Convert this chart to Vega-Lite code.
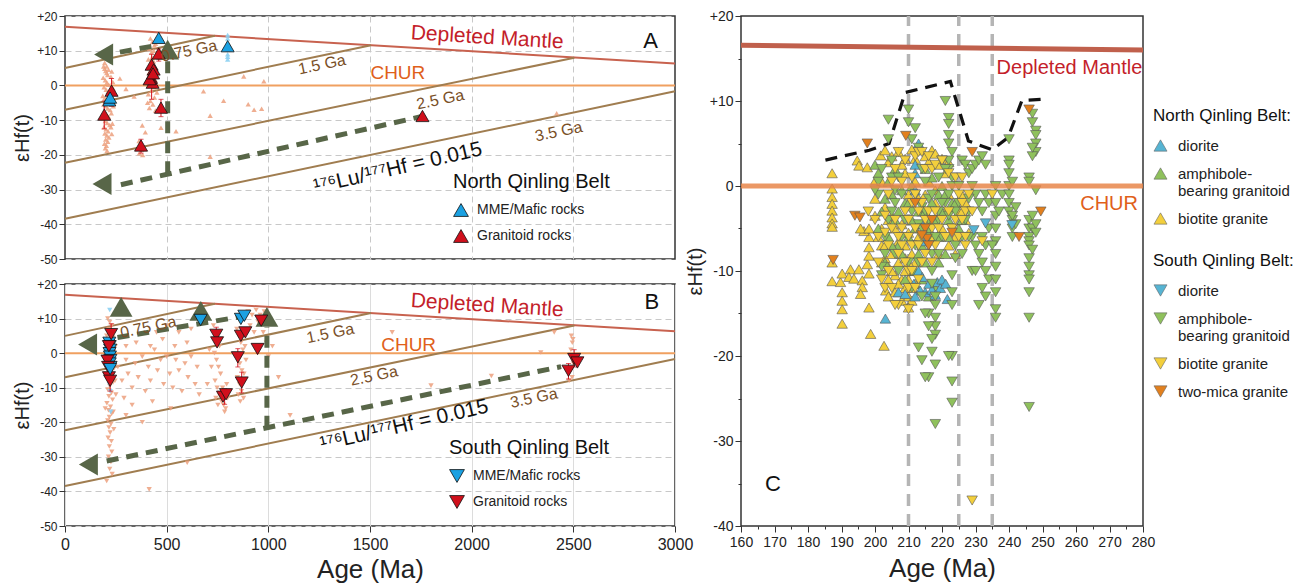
{
"$schema":"https://vega.github.io/schema/vega-lite/v6.json",
"padding":{"left":11,"top":8,"right":0,"bottom":0},
"background":"white",
"config":{"font":"Liberation Sans","view":{"stroke":"#333","strokeWidth":1.5},
"axis":{"labelFont":"Liberation Sans","titleFont":"Liberation Sans","labelColor":"#222","titleColor":"#222","titleFontWeight":"normal","domain":false,"tickColor":"#333"},
"legend":{"labelFont":"Liberation Sans","titleFont":"Liberation Sans","titleFontWeight":"normal","titleColor":"#111","labelColor":"#222"}},
"datasets":{
"tA":[{"t":"Depleted Mantle","age":2076,"eHf":13.7,"k":"dm"},{"t":"CHUR","age":1637,"eHf":3.6,"k":"chur"},{"t":"A","age":2880,"eHf":12.8,"k":"panel"},{"t":"0.75 Ga","age":610,"eHf":9.9,"k":"ga"},{"t":"1.5 Ga","age":1264,"eHf":6.0,"k":"ga"},{"t":"2.5 Ga","age":1846,"eHf":-4.1,"k":"ga"},{"t":"3.5 Ga","age":2428,"eHf":-13.3,"k":"ga"},{"t":"¹⁷⁶Lu/¹⁷⁷Hf = 0.015","age":1637,"eHf":-23.9,"k":"lu"}],
"tB":[{"t":"Depleted Mantle","age":2076,"eHf":13.7,"k":"dm"},{"t":"CHUR","age":1690,"eHf":2.3,"k":"chur"},{"t":"B","age":2886,"eHf":14.9,"k":"panel"},{"t":"0.75 Ga","age":410,"eHf":7.5,"k":"ga"},{"t":"1.5 Ga","age":1305,"eHf":5.7,"k":"ga"},{"t":"2.5 Ga","age":1520,"eHf":-6.6,"k":"ga"},{"t":"3.5 Ga","age":2306,"eHf":-13,"k":"ga"},{"t":"¹⁷⁶Lu/¹⁷⁷Hf = 0.015","age":1668,"eHf":-21,"k":"lu"}],
"tC":[{"t":"Depleted Mantle","age":236.3,"eHf":13.9,"k":"dm"},{"t":"CHUR","age":278.5,"eHf":-2.1,"k":"chur"},{"t":"C","age":169.5,"eHf":-35,"k":"panel"}],
"evo":[{"line":"DM","age":0,"eHf":16.9},{"line":"DM","age":3000,"eHf":6.3},{"line":"CHUR","age":0,"eHf":0},{"line":"CHUR","age":3000,"eHf":0},{"line":"0.75 Ga","age":0,"eHf":5.0},{"line":"0.75 Ga","age":737,"eHf":14.3},{"line":"1.5 Ga","age":0,"eHf":-7.0},{"line":"1.5 Ga","age":1505,"eHf":11.6},{"line":"2.5 Ga","age":0,"eHf":-22.3},{"line":"2.5 Ga","age":2505,"eHf":8.0},{"line":"3.5 Ga","age":0,"eHf":-38.4},{"line":"3.5 Ga","age":3000,"eHf":-1.7}],
"arrA":[{"seg":"a","age":270,"eHf":9.6},{"seg":"a","age":430,"eHf":11.3},{"seg":"b","age":505,"eHf":-25.3},{"seg":"b","age":505,"eHf":7.5},{"seg":"c","age":1750,"eHf":-9},{"seg":"c","age":275,"eHf":-28.6}],
"headA":[{"dir":"left","age":190,"eHf":8.9},{"dir":"up","age":505,"eHf":10.3},{"dir":"left","age":182,"eHf":-28.4}],
"arrB":[{"seg":"a","age":258,"eHf":4.5},{"seg":"a","age":860,"eHf":10.5},{"seg":"b","age":993,"eHf":-21.6},{"seg":"b","age":993,"eHf":7.5},{"seg":"c","age":2440,"eHf":-3.9},{"seg":"c","age":205,"eHf":-31.2}],
"headB":[{"dir":"up","age":276,"eHf":13.4},{"dir":"up","age":668,"eHf":12.2},{"dir":"up","age":993,"eHf":10.5},{"dir":"left","age":111,"eHf":2.5},{"dir":"left","age":115,"eHf":-32.2}],
"fA":[{"age":190,"eHf":5.5},{"age":195,"eHf":4.8},{"age":200,"eHf":4.2},{"age":205,"eHf":3.6},{"age":210,"eHf":3},{"age":188,"eHf":2.2},{"age":198,"eHf":1.5},{"age":206,"eHf":0.8},{"age":215,"eHf":0.2},{"age":192,"eHf":-0.5},{"age":202,"eHf":-1.2},{"age":212,"eHf":-1.8},{"age":220,"eHf":-2.5},{"age":186,"eHf":-3},{"age":196,"eHf":-3.6},{"age":208,"eHf":-4.2},{"age":218,"eHf":-4.8},{"age":190,"eHf":-5.5},{"age":200,"eHf":-6},{"age":210,"eHf":-6.6},{"age":222,"eHf":-7.1},{"age":194,"eHf":-7.8},{"age":204,"eHf":-8.4},{"age":214,"eHf":-9},{"age":188,"eHf":-9.6},{"age":198,"eHf":-10.2},{"age":208,"eHf":-10.8},{"age":220,"eHf":-11.4},{"age":192,"eHf":-12},{"age":202,"eHf":-12.6},{"age":212,"eHf":-13.2},{"age":196,"eHf":-13.8},{"age":206,"eHf":-14.4},{"age":216,"eHf":-15},{"age":200,"eHf":-15.6},{"age":210,"eHf":-16.2},{"age":194,"eHf":-16.8},{"age":204,"eHf":-17.4},{"age":198,"eHf":-18.1},{"age":207,"eHf":-18.8},{"age":230,"eHf":4},{"age":235,"eHf":1},{"age":232,"eHf":-2},{"age":236,"eHf":-5},{"age":228,"eHf":-8},{"age":233,"eHf":-11},{"age":226,"eHf":2.5},{"age":238,"eHf":-1},{"age":195,"eHf":6.5},{"age":205,"eHf":5.5},{"age":214,"eHf":4.5},{"age":224,"eHf":-3.5},{"age":226,"eHf":-12},{"age":230,"eHf":-14},{"age":238,"eHf":-6},{"age":420,"eHf":13.5},{"age":430,"eHf":12.5},{"age":440,"eHf":11.5},{"age":415,"eHf":10.5},{"age":425,"eHf":9.5},{"age":445,"eHf":8.5},{"age":410,"eHf":7.5},{"age":435,"eHf":7},{"age":420,"eHf":5.5},{"age":440,"eHf":4.5},{"age":412,"eHf":3.5},{"age":430,"eHf":2.5},{"age":445,"eHf":1.5},{"age":418,"eHf":0.5},{"age":438,"eHf":-0.5},{"age":425,"eHf":-1.5},{"age":410,"eHf":-2.5},{"age":440,"eHf":-3.5},{"age":420,"eHf":-4.5},{"age":432,"eHf":-5.5},{"age":415,"eHf":-6.5},{"age":445,"eHf":-7.2},{"age":428,"eHf":8},{"age":436,"eHf":10},{"age":446,"eHf":12},{"age":414,"eHf":5},{"age":450,"eHf":3},{"age":404,"eHf":1},{"age":452,"eHf":-2},{"age":406,"eHf":-5},{"age":364,"eHf":-16},{"age":370,"eHf":-17.5},{"age":378,"eHf":-18.5},{"age":366,"eHf":-19.5},{"age":382,"eHf":-20},{"age":372,"eHf":-16.5},{"age":340,"eHf":-3.2},{"age":380,"eHf":-11.5},{"age":395,"eHf":-13.5},{"age":472,"eHf":-12.2},{"age":546,"eHf":-13.2},{"age":681,"eHf":-1.7},{"age":714,"eHf":-8.7},{"age":780,"eHf":-4.4},{"age":714,"eHf":-20.5},{"age":879,"eHf":2.6},{"age":901,"eHf":-5.4},{"age":930,"eHf":-7},{"age":967,"eHf":-6.7},{"age":978,"eHf":1.2},{"age":2418,"eHf":-8},{"age":300,"eHf":-1},{"age":270,"eHf":2}],
"fAb":[{"age":800,"eHf":9},{"age":800,"eHf":7.5},{"age":800,"eHf":8.3},{"age":800,"eHf":14.5},{"age":800,"eHf":13.5}],
"mA":[{"age":193,"eHf":-8.4,"type":"Granitoid rocks"},{"age":229,"eHf":-1.5,"type":"Granitoid rocks"},{"age":374,"eHf":-17.3,"type":"Granitoid rocks"},{"age":461,"eHf":9.2,"type":"Granitoid rocks"},{"age":426,"eHf":6.0,"type":"Granitoid rocks"},{"age":436,"eHf":4.6,"type":"Granitoid rocks"},{"age":423,"eHf":2.2,"type":"Granitoid rocks"},{"age":431,"eHf":0.8,"type":"Granitoid rocks"},{"age":416,"eHf":1.8,"type":"Granitoid rocks"},{"age":433,"eHf":3.5,"type":"Granitoid rocks"},{"age":472,"eHf":-6.4,"type":"Granitoid rocks"},{"age":1758,"eHf":-8.8,"type":"Granitoid rocks"},{"age":461,"eHf":13.7,"type":"MME/Mafic rocks"},{"age":800,"eHf":11.3,"type":"MME/Mafic rocks"},{"age":218,"eHf":-4.3,"type":"MME/Mafic rocks"},{"age":222,"eHf":-3.5,"type":"MME/Mafic rocks"}],
"eA":[{"age":193,"lo":-12.5,"hi":-4.5},{"age":229,"lo":-6,"hi":2},{"age":374,"lo":-19.5,"hi":-15.5},{"age":472,"lo":-9,"hi":-4},{"age":461,"lo":7,"hi":10.5},{"age":426,"lo":-4,"hi":9}],
"fB":[{"age":210,"eHf":10},{"age":220,"eHf":9},{"age":230,"eHf":8},{"age":215,"eHf":7},{"age":225,"eHf":6},{"age":205,"eHf":5},{"age":235,"eHf":4.5},{"age":212,"eHf":3.5},{"age":228,"eHf":2.5},{"age":208,"eHf":1.5},{"age":238,"eHf":0.5},{"age":218,"eHf":-0.5},{"age":232,"eHf":-1.5},{"age":205,"eHf":-2.5},{"age":226,"eHf":-3.5},{"age":240,"eHf":-4.5},{"age":214,"eHf":-5.5},{"age":230,"eHf":-6.5},{"age":208,"eHf":-7.5},{"age":236,"eHf":-8.5},{"age":220,"eHf":-9.5},{"age":210,"eHf":-10.5},{"age":228,"eHf":-11.5},{"age":216,"eHf":-12.5},{"age":234,"eHf":-13.5},{"age":206,"eHf":-14.5},{"age":224,"eHf":-15.5},{"age":214,"eHf":-16.5},{"age":230,"eHf":-17.5},{"age":218,"eHf":-18.5},{"age":210,"eHf":-19.5},{"age":226,"eHf":-20.5},{"age":216,"eHf":-21.5},{"age":222,"eHf":-23},{"age":212,"eHf":-24.5},{"age":228,"eHf":-25.5},{"age":218,"eHf":-27},{"age":230,"eHf":-28.5},{"age":214,"eHf":-30},{"age":226,"eHf":-31.5},{"age":220,"eHf":-33.5},{"age":205,"eHf":-37},{"age":232,"eHf":-35},{"age":245,"eHf":-3},{"age":246,"eHf":-8},{"age":250,"eHf":-12},{"age":248,"eHf":2},{"age":200,"eHf":-6},{"age":198,"eHf":-16},{"age":240,"eHf":-22},{"age":237,"eHf":-17},{"age":260,"eHf":-4},{"age":280,"eHf":-8},{"age":300,"eHf":-2},{"age":310,"eHf":-6},{"age":330,"eHf":-10},{"age":345,"eHf":-3},{"age":360,"eHf":-7},{"age":380,"eHf":-1},{"age":395,"eHf":-11},{"age":410,"eHf":-4},{"age":420,"eHf":-8},{"age":440,"eHf":1},{"age":455,"eHf":-5},{"age":470,"eHf":-2},{"age":485,"eHf":-9},{"age":500,"eHf":-1},{"age":515,"eHf":-6},{"age":530,"eHf":-10},{"age":545,"eHf":-2},{"age":560,"eHf":-5},{"age":575,"eHf":-11},{"age":590,"eHf":-3},{"age":605,"eHf":-7},{"age":620,"eHf":-1},{"age":640,"eHf":-9},{"age":300,"eHf":2},{"age":350,"eHf":3},{"age":420,"eHf":2},{"age":480,"eHf":4},{"age":540,"eHf":2},{"age":600,"eHf":3},{"age":560,"eHf":6},{"age":620,"eHf":7},{"age":500,"eHf":8},{"age":450,"eHf":6},{"age":650,"eHf":-4},{"age":660,"eHf":-12},{"age":330,"eHf":-15},{"age":290,"eHf":-13},{"age":430,"eHf":-14},{"age":520,"eHf":-16},{"age":601,"eHf":-31.7},{"age":414,"eHf":-39.4},{"age":380,"eHf":-20},{"age":300,"eHf":-18},{"age":730,"eHf":8},{"age":740,"eHf":6},{"age":750,"eHf":4},{"age":760,"eHf":2},{"age":735,"eHf":0},{"age":745,"eHf":-2},{"age":755,"eHf":-4},{"age":765,"eHf":-6},{"age":738,"eHf":-8},{"age":748,"eHf":-10},{"age":758,"eHf":-12},{"age":770,"eHf":-14},{"age":780,"eHf":-15},{"age":790,"eHf":-16},{"age":800,"eHf":-13},{"age":775,"eHf":-10},{"age":795,"eHf":-9},{"age":742,"eHf":-13},{"age":752,"eHf":-15},{"age":785,"eHf":-17},{"age":720,"eHf":-4},{"age":710,"eHf":1},{"age":700,"eHf":-9},{"age":845,"eHf":7},{"age":855,"eHf":5},{"age":865,"eHf":3},{"age":875,"eHf":1},{"age":850,"eHf":-1},{"age":860,"eHf":-3},{"age":870,"eHf":-5},{"age":848,"eHf":-7},{"age":858,"eHf":-9},{"age":868,"eHf":-11},{"age":878,"eHf":-13},{"age":852,"eHf":-12},{"age":862,"eHf":-14},{"age":880,"eHf":-6},{"age":890,"eHf":-2},{"age":885,"eHf":2},{"age":900,"eHf":12},{"age":920,"eHf":11},{"age":940,"eHf":12.5},{"age":960,"eHf":11},{"age":980,"eHf":12},{"age":910,"eHf":8},{"age":930,"eHf":6},{"age":950,"eHf":9},{"age":975,"eHf":6},{"age":990,"eHf":3},{"age":1000,"eHf":-1},{"age":1020,"eHf":2},{"age":1107,"eHf":-18},{"age":1609,"eHf":6},{"age":1800,"eHf":-9.4},{"age":2097,"eHf":-6.6},{"age":2340,"eHf":0.2},{"age":2406,"eHf":6},{"age":1050,"eHf":-7},{"age":2490,"eHf":5},{"age":2495,"eHf":3},{"age":2488,"eHf":1},{"age":2492,"eHf":-1},{"age":2500,"eHf":-3},{"age":2486,"eHf":-5},{"age":2494,"eHf":-7},{"age":2480,"eHf":-8},{"age":2498,"eHf":4}],
"fBb":[{"age":220,"eHf":12.5},{"age":225,"eHf":-17},{"age":222,"eHf":-11},{"age":218,"eHf":-9}],
"mB":[{"age":218,"eHf":3,"type":"MME/Mafic rocks"},{"age":220,"eHf":2,"type":"MME/Mafic rocks"},{"age":222,"eHf":1,"type":"MME/Mafic rocks"},{"age":219,"eHf":0,"type":"MME/Mafic rocks"},{"age":221,"eHf":-1,"type":"MME/Mafic rocks"},{"age":223,"eHf":-2,"type":"MME/Mafic rocks"},{"age":220,"eHf":-3,"type":"MME/Mafic rocks"},{"age":224,"eHf":-4,"type":"MME/Mafic rocks"},{"age":667,"eHf":9.6,"type":"MME/Mafic rocks"},{"age":865,"eHf":9.9,"type":"MME/Mafic rocks"},{"age":882,"eHf":10.8,"type":"MME/Mafic rocks"},{"age":227,"eHf":5.5,"type":"Granitoid rocks"},{"age":216,"eHf":2,"type":"Granitoid rocks"},{"age":209,"eHf":-2.2,"type":"Granitoid rocks"},{"age":212,"eHf":-4,"type":"Granitoid rocks"},{"age":216,"eHf":-7,"type":"Granitoid rocks"},{"age":222,"eHf":-8,"type":"Granitoid rocks"},{"age":744,"eHf":5.3,"type":"Granitoid rocks"},{"age":748,"eHf":3.1,"type":"Granitoid rocks"},{"age":777,"eHf":-12.6,"type":"Granitoid rocks"},{"age":792,"eHf":-11.9,"type":"Granitoid rocks"},{"age":850,"eHf":-1.2,"type":"Granitoid rocks"},{"age":865,"eHf":5,"type":"Granitoid rocks"},{"age":887,"eHf":6,"type":"Granitoid rocks"},{"age":869,"eHf":-8.5,"type":"Granitoid rocks"},{"age":947,"eHf":1.2,"type":"Granitoid rocks"},{"age":965,"eHf":9.4,"type":"Granitoid rocks"},{"age":2476,"eHf":-5.1,"type":"Granitoid rocks"},{"age":2504,"eHf":-1.7,"type":"Granitoid rocks"},{"age":2520,"eHf":-2.7,"type":"Granitoid rocks"},{"age":222,"eHf":-4.6,"type":"MME/Mafic rocks"}],
"eB":[{"age":227,"lo":3,"hi":8.5},{"age":222,"lo":-11,"hi":-5.5},{"age":744,"lo":3,"hi":7.5},{"age":785,"lo":-14.8,"hi":-10.3},{"age":850,"lo":-4,"hi":1.3},{"age":869,"lo":-11.5,"hi":-5.5},{"age":2476,"lo":-7.5,"hi":-3},{"age":2504,"lo":-4,"hi":1},{"age":209,"lo":-4.5,"hi":0}],
"cv":[{"g":"a","age":210,"eHf":-40},{"g":"a","age":210,"eHf":20},{"g":"b","age":225,"eHf":-40},{"g":"b","age":225,"eHf":20},{"g":"c","age":235,"eHf":-40},{"g":"c","age":235,"eHf":20}],
"cdm":[{"age":160,"eHf":16.55},{"age":280,"eHf":16.0}],
"cchur":[{"age":160,"eHf":0},{"age":280,"eHf":0}],
"env":[{"age":185.2,"eHf":3.05},{"age":194.7,"eHf":3.9},{"age":198.3,"eHf":4.2},{"age":204.2,"eHf":5.0},{"age":209,"eHf":11},{"age":222.5,"eHf":12.3},{"age":227.9,"eHf":5.3},{"age":235,"eHf":4.25},{"age":239.7,"eHf":5.7},{"age":243.9,"eHf":10.1},{"age":245.6,"eHf":10.1},{"age":249.8,"eHf":10.2}],
"cN":[
{"age":187.2,"eHf":1.5,"l":"biotite granite"},{"age":187.2,"eHf":-0.3,"l":"biotite granite"},{"age":187.2,"eHf":-1.3,"l":"biotite granite"},{"age":187.2,"eHf":-2.1,"l":"biotite granite"},{"age":187.2,"eHf":-2.9,"l":"biotite granite"},{"age":187.2,"eHf":-3.7,"l":"biotite granite"},{"age":187.2,"eHf":-4.4,"l":"biotite granite"},{"age":187.2,"eHf":-4.8,"l":"biotite granite"},{"age":187.2,"eHf":-9,"l":"biotite granite"},{"age":187.2,"eHf":-11.2,"l":"biotite granite"},{"age":189.7,"eHf":-11.3,"l":"biotite granite"},{"age":190.2,"eHf":-10.3,"l":"biotite granite"},{"age":190.2,"eHf":-12.5,"l":"biotite granite"},{"age":190.2,"eHf":-13.5,"l":"biotite granite"},{"age":190.2,"eHf":-14.5,"l":"biotite granite"},{"age":190.2,"eHf":-16.2,"l":"biotite granite"},{"age":192.7,"eHf":-9.8,"l":"biotite granite"},{"age":192.2,"eHf":-10.7,"l":"biotite granite"},{"age":193.7,"eHf":-10.9,"l":"biotite granite"},{"age":195.2,"eHf":-9.8,"l":"biotite granite"},{"age":196.2,"eHf":-11.1,"l":"biotite granite"},{"age":196.2,"eHf":-11.9,"l":"biotite granite"},{"age":195.7,"eHf":-12.7,"l":"biotite granite"},{"age":198.2,"eHf":-10.3,"l":"biotite granite"},{"age":197.7,"eHf":-9.2,"l":"biotite granite"},{"age":198.2,"eHf":-8.2,"l":"biotite granite"},{"age":198.2,"eHf":-7.2,"l":"biotite granite"},{"age":198.2,"eHf":-6.0,"l":"biotite granite"},{"age":196.7,"eHf":-5.3,"l":"biotite granite"},{"age":195.7,"eHf":-5.0,"l":"biotite granite"},{"age":198.2,"eHf":-5.0,"l":"biotite granite"},{"age":198.2,"eHf":-14.3,"l":"biotite granite"},{"age":198.7,"eHf":-17.4,"l":"biotite granite"},{"age":202.7,"eHf":-18.8,"l":"biotite granite"},{"age":203.2,"eHf":-12.3,"l":"biotite granite"},{"age":194.7,"eHf":3.0,"l":"biotite granite"},{"age":195.2,"eHf":2.4,"l":"biotite granite"},{"age":197.7,"eHf":2.2,"l":"biotite granite"},{"age":200.2,"eHf":0.7,"l":"biotite granite"},{"age":201.7,"eHf":3.6,"l":"biotite granite"},{"age":203,"eHf":4.2,"l":"biotite granite"},{"age":204,"eHf":2.8,"l":"biotite granite"},{"age":205,"eHf":3.5,"l":"biotite granite"},{"age":206,"eHf":1.8,"l":"biotite granite"},{"age":207,"eHf":4,"l":"biotite granite"},{"age":208,"eHf":2.5,"l":"biotite granite"},{"age":209,"eHf":3.2,"l":"biotite granite"},{"age":211,"eHf":4.3,"l":"biotite granite"},{"age":212,"eHf":3.2,"l":"biotite granite"},{"age":214,"eHf":4.2,"l":"biotite granite"},{"age":215,"eHf":3.5,"l":"biotite granite"},{"age":216,"eHf":2.8,"l":"biotite granite"},{"age":217,"eHf":4.2,"l":"biotite granite"},{"age":218,"eHf":3.8,"l":"biotite granite"},{"age":219,"eHf":2.5,"l":"biotite granite"},{"age":220,"eHf":3.2,"l":"biotite granite"},{"age":221,"eHf":1.5,"l":"biotite granite"},{"age":222,"eHf":2.8,"l":"biotite granite"},{"age":203,"eHf":-2.5,"l":"biotite granite"},{"age":204,"eHf":-4,"l":"biotite granite"},{"age":205,"eHf":-3.5,"l":"biotite granite"},{"age":206,"eHf":-5,"l":"biotite granite"},{"age":207,"eHf":-6.5,"l":"biotite granite"},{"age":208,"eHf":-4.5,"l":"biotite granite"},{"age":209,"eHf":-7,"l":"biotite granite"},{"age":210,"eHf":-5.5,"l":"biotite granite"},{"age":211,"eHf":-8,"l":"biotite granite"},{"age":211,"eHf":-10,"l":"biotite granite"},{"age":211,"eHf":-12,"l":"biotite granite"},{"age":212,"eHf":-9,"l":"biotite granite"},{"age":213,"eHf":-6,"l":"biotite granite"},{"age":214,"eHf":-3,"l":"biotite granite"},{"age":215,"eHf":-1,"l":"biotite granite"},{"age":216,"eHf":-4,"l":"biotite granite"},{"age":217,"eHf":-6,"l":"biotite granite"},{"age":218,"eHf":-2,"l":"biotite granite"},{"age":219,"eHf":-8,"l":"biotite granite"},{"age":220,"eHf":-5,"l":"biotite granite"},{"age":221,"eHf":-3,"l":"biotite granite"},{"age":222,"eHf":-1,"l":"biotite granite"},{"age":223,"eHf":-2.5,"l":"biotite granite"},{"age":224,"eHf":-6,"l":"biotite granite"},{"age":225,"eHf":-3,"l":"biotite granite"},{"age":226,"eHf":-1,"l":"biotite granite"},{"age":227,"eHf":-2,"l":"biotite granite"},{"age":227,"eHf":-4,"l":"biotite granite"},{"age":228,"eHf":-5.5,"l":"biotite granite"},{"age":200,"eHf":-3.5,"l":"biotite granite"},{"age":201,"eHf":-6,"l":"biotite granite"},{"age":202,"eHf":-7,"l":"biotite granite"},{"age":203,"eHf":-8.5,"l":"biotite granite"},{"age":204,"eHf":-9.5,"l":"biotite granite"},{"age":205,"eHf":-8,"l":"biotite granite"},{"age":206,"eHf":-10.5,"l":"biotite granite"},{"age":207,"eHf":-9,"l":"biotite granite"},{"age":208,"eHf":-11,"l":"biotite granite"},{"age":209,"eHf":-10,"l":"biotite granite"},{"age":210,"eHf":-13,"l":"biotite granite"},{"age":200,"eHf":-1.5,"l":"biotite granite"},{"age":202,"eHf":0.5,"l":"biotite granite"},{"age":202,"eHf":-5,"l":"biotite granite"},{"age":210,"eHf":-1,"l":"biotite granite"},{"age":212,"eHf":0.5,"l":"biotite granite"},{"age":213,"eHf":-1.5,"l":"biotite granite"},{"age":216,"eHf":0.5,"l":"biotite granite"},{"age":218,"eHf":-0.5,"l":"biotite granite"},{"age":209,"eHf":1.5,"l":"biotite granite"},{"age":226,"eHf":-3,"l":"biotite granite"},{"age":224,"eHf":-8,"l":"biotite granite"},{"age":222,"eHf":-7,"l":"biotite granite"},{"age":209,"eHf":-12,"l":"biotite granite"},{"age":210,"eHf":-11,"l":"biotite granite"},{"age":210,"eHf":-9,"l":"biotite granite"},{"age":211,"eHf":-13.5,"l":"biotite granite"},{"age":212,"eHf":-11.5,"l":"biotite granite"},{"age":210,"eHf":-14.3,"l":"biotite granite"},{"age":209,"eHf":-8.5,"l":"biotite granite"},{"age":208,"eHf":-13.5,"l":"biotite granite"},{"age":206,"eHf":-12.5,"l":"biotite granite"},{"age":205,"eHf":-10,"l":"biotite granite"},{"age":207,"eHf":-11.5,"l":"biotite granite"},{"age":204,"eHf":-11,"l":"biotite granite"},{"age":203,"eHf":-7,"l":"biotite granite"},{"age":202,"eHf":-9,"l":"biotite granite"},{"age":204,"eHf":-13,"l":"biotite granite"},
{"age":200,"eHf":2.5,"l":"amphibole-bearing granitoid"},{"age":201,"eHf":1.5,"l":"amphibole-bearing granitoid"},{"age":202,"eHf":-3,"l":"amphibole-bearing granitoid"},{"age":203,"eHf":-1.5,"l":"amphibole-bearing granitoid"},{"age":204,"eHf":-6,"l":"amphibole-bearing granitoid"},{"age":205,"eHf":-1,"l":"amphibole-bearing granitoid"},{"age":206,"eHf":-4,"l":"amphibole-bearing granitoid"},{"age":207,"eHf":-3,"l":"amphibole-bearing granitoid"},{"age":207,"eHf":-7,"l":"amphibole-bearing granitoid"},{"age":208,"eHf":-0.5,"l":"amphibole-bearing granitoid"},{"age":209,"eHf":-2,"l":"amphibole-bearing granitoid"},{"age":210,"eHf":-2,"l":"amphibole-bearing granitoid"},{"age":210,"eHf":-6,"l":"amphibole-bearing granitoid"},{"age":211,"eHf":0,"l":"amphibole-bearing granitoid"},{"age":211,"eHf":-4,"l":"amphibole-bearing granitoid"},{"age":212,"eHf":-5,"l":"amphibole-bearing granitoid"},{"age":213,"eHf":-8,"l":"amphibole-bearing granitoid"},{"age":213,"eHf":-3,"l":"amphibole-bearing granitoid"},{"age":214,"eHf":-7,"l":"amphibole-bearing granitoid"},{"age":215,"eHf":-3,"l":"amphibole-bearing granitoid"},{"age":215,"eHf":-9,"l":"amphibole-bearing granitoid"},{"age":216,"eHf":-5,"l":"amphibole-bearing granitoid"},{"age":217,"eHf":1,"l":"amphibole-bearing granitoid"},{"age":217,"eHf":-2,"l":"amphibole-bearing granitoid"},{"age":218,"eHf":-4,"l":"amphibole-bearing granitoid"},{"age":219,"eHf":-6,"l":"amphibole-bearing granitoid"},{"age":219,"eHf":-1,"l":"amphibole-bearing granitoid"},{"age":220,"eHf":0,"l":"amphibole-bearing granitoid"},{"age":220,"eHf":-3,"l":"amphibole-bearing granitoid"},{"age":221,"eHf":-8,"l":"amphibole-bearing granitoid"},{"age":222,"eHf":-4,"l":"amphibole-bearing granitoid"},{"age":222,"eHf":-6,"l":"amphibole-bearing granitoid"},{"age":223,"eHf":-2,"l":"amphibole-bearing granitoid"},{"age":224,"eHf":-2,"l":"amphibole-bearing granitoid"},{"age":225,"eHf":-5,"l":"amphibole-bearing granitoid"},{"age":226,"eHf":-4,"l":"amphibole-bearing granitoid"},{"age":201,"eHf":-5,"l":"amphibole-bearing granitoid"},{"age":203,"eHf":-9,"l":"amphibole-bearing granitoid"},{"age":205,"eHf":-7,"l":"amphibole-bearing granitoid"},{"age":208,"eHf":-8,"l":"amphibole-bearing granitoid"},{"age":209,"eHf":-11,"l":"amphibole-bearing granitoid"},{"age":212,"eHf":-10,"l":"amphibole-bearing granitoid"},{"age":214,"eHf":-11,"l":"amphibole-bearing granitoid"},{"age":216,"eHf":-13,"l":"amphibole-bearing granitoid"},{"age":218,"eHf":-12,"l":"amphibole-bearing granitoid"},{"age":204,"eHf":0.5,"l":"amphibole-bearing granitoid"},{"age":206,"eHf":2,"l":"amphibole-bearing granitoid"},{"age":215,"eHf":2,"l":"amphibole-bearing granitoid"},{"age":221,"eHf":-1,"l":"amphibole-bearing granitoid"},{"age":219,"eHf":-9,"l":"amphibole-bearing granitoid"},
{"age":213,"eHf":5,"l":"diorite"},{"age":212,"eHf":2.5,"l":"diorite"},{"age":212,"eHf":1.5,"l":"diorite"},{"age":212,"eHf":-0.5,"l":"diorite"},{"age":214,"eHf":-4.5,"l":"diorite"},{"age":215,"eHf":-6.5,"l":"diorite"},{"age":207,"eHf":-12.5,"l":"diorite"},{"age":209,"eHf":-12.7,"l":"diorite"},{"age":211.6,"eHf":-11.5,"l":"diorite"},{"age":213,"eHf":-10,"l":"diorite"},{"age":213.5,"eHf":-12.3,"l":"diorite"},{"age":214.1,"eHf":-10.7,"l":"diorite"},{"age":215,"eHf":-12.5,"l":"diorite"},{"age":216.1,"eHf":-11.5,"l":"diorite"},{"age":217,"eHf":-12.2,"l":"diorite"},{"age":218.6,"eHf":-11.3,"l":"diorite"},{"age":219.5,"eHf":-12,"l":"diorite"},{"age":220,"eHf":-11,"l":"diorite"},{"age":221.1,"eHf":-11.5,"l":"diorite"},{"age":221.6,"eHf":-13.3,"l":"diorite"},{"age":203.1,"eHf":-15.6,"l":"diorite"},{"age":212,"eHf":-13,"l":"diorite"},{"age":218,"eHf":-12.8,"l":"diorite"}],
"cS":[
{"age":204,"eHf":7.8,"l":"amphibole-bearing granitoid"},{"age":204,"eHf":5.5,"l":"amphibole-bearing granitoid"},{"age":205,"eHf":3,"l":"amphibole-bearing granitoid"},{"age":205,"eHf":1,"l":"amphibole-bearing granitoid"},{"age":206,"eHf":-0.5,"l":"amphibole-bearing granitoid"},{"age":206,"eHf":-2,"l":"amphibole-bearing granitoid"},{"age":205,"eHf":-3,"l":"amphibole-bearing granitoid"},{"age":204,"eHf":-4,"l":"amphibole-bearing granitoid"},{"age":203,"eHf":-6,"l":"amphibole-bearing granitoid"},{"age":203,"eHf":-8,"l":"amphibole-bearing granitoid"},{"age":202,"eHf":-9.5,"l":"amphibole-bearing granitoid"},{"age":202,"eHf":-10.5,"l":"amphibole-bearing granitoid"},{"age":201,"eHf":-1,"l":"amphibole-bearing granitoid"},{"age":202,"eHf":2,"l":"amphibole-bearing granitoid"},{"age":201,"eHf":0.5,"l":"amphibole-bearing granitoid"},{"age":200,"eHf":-0.5,"l":"amphibole-bearing granitoid"},{"age":210,"eHf":9,"l":"amphibole-bearing granitoid"},{"age":210,"eHf":7.5,"l":"amphibole-bearing granitoid"},{"age":211,"eHf":5.5,"l":"amphibole-bearing granitoid"},{"age":212,"eHf":6.8,"l":"amphibole-bearing granitoid"},{"age":213,"eHf":4.5,"l":"amphibole-bearing granitoid"},{"age":214,"eHf":2,"l":"amphibole-bearing granitoid"},{"age":215,"eHf":0.5,"l":"amphibole-bearing granitoid"},{"age":216,"eHf":-1.5,"l":"amphibole-bearing granitoid"},{"age":214,"eHf":-2.5,"l":"amphibole-bearing granitoid"},{"age":213,"eHf":-4.5,"l":"amphibole-bearing granitoid"},{"age":216,"eHf":-6,"l":"amphibole-bearing granitoid"},{"age":217,"eHf":-8,"l":"amphibole-bearing granitoid"},{"age":217,"eHf":-10,"l":"amphibole-bearing granitoid"},{"age":217,"eHf":-11.5,"l":"amphibole-bearing granitoid"},{"age":218,"eHf":-13,"l":"amphibole-bearing granitoid"},{"age":218,"eHf":-14,"l":"amphibole-bearing granitoid"},{"age":218,"eHf":-15.5,"l":"amphibole-bearing granitoid"},{"age":218,"eHf":-16.5,"l":"amphibole-bearing granitoid"},{"age":218,"eHf":-17.5,"l":"amphibole-bearing granitoid"},{"age":217,"eHf":-18,"l":"amphibole-bearing granitoid"},{"age":217,"eHf":-19.5,"l":"amphibole-bearing granitoid"},{"age":218,"eHf":-21,"l":"amphibole-bearing granitoid"},{"age":216,"eHf":-22.5,"l":"amphibole-bearing granitoid"},{"age":218,"eHf":-28,"l":"amphibole-bearing granitoid"},{"age":216,"eHf":-15,"l":"amphibole-bearing granitoid"},{"age":216,"eHf":-16.5,"l":"amphibole-bearing granitoid"},{"age":221,"eHf":10,"l":"amphibole-bearing granitoid"},{"age":222,"eHf":8,"l":"amphibole-bearing granitoid"},{"age":222,"eHf":7.3,"l":"amphibole-bearing granitoid"},{"age":222,"eHf":6,"l":"amphibole-bearing granitoid"},{"age":222,"eHf":5,"l":"amphibole-bearing granitoid"},{"age":223,"eHf":4,"l":"amphibole-bearing granitoid"},{"age":222,"eHf":3,"l":"amphibole-bearing granitoid"},{"age":222,"eHf":2,"l":"amphibole-bearing granitoid"},{"age":223,"eHf":1,"l":"amphibole-bearing granitoid"},{"age":223,"eHf":0,"l":"amphibole-bearing granitoid"},{"age":222,"eHf":-1,"l":"amphibole-bearing granitoid"},{"age":221,"eHf":-2,"l":"amphibole-bearing granitoid"},{"age":222,"eHf":-3.5,"l":"amphibole-bearing granitoid"},{"age":223,"eHf":-5,"l":"amphibole-bearing granitoid"},{"age":224,"eHf":-7,"l":"amphibole-bearing granitoid"},{"age":224,"eHf":-8.5,"l":"amphibole-bearing granitoid"},{"age":223,"eHf":-10.5,"l":"amphibole-bearing granitoid"},{"age":223,"eHf":-12.5,"l":"amphibole-bearing granitoid"},{"age":223,"eHf":-14,"l":"amphibole-bearing granitoid"},{"age":223,"eHf":-20,"l":"amphibole-bearing granitoid"},{"age":223,"eHf":-23,"l":"amphibole-bearing granitoid"},{"age":223,"eHf":-25.5,"l":"amphibole-bearing granitoid"},{"age":222,"eHf":-20,"l":"amphibole-bearing granitoid"},{"age":220,"eHf":-2,"l":"amphibole-bearing granitoid"},{"age":219,"eHf":-4,"l":"amphibole-bearing granitoid"},{"age":220,"eHf":-6,"l":"amphibole-bearing granitoid"},{"age":219,"eHf":-8,"l":"amphibole-bearing granitoid"},{"age":226,"eHf":3,"l":"amphibole-bearing granitoid"},{"age":227,"eHf":2.5,"l":"amphibole-bearing granitoid"},{"age":228,"eHf":1.5,"l":"amphibole-bearing granitoid"},{"age":229,"eHf":2,"l":"amphibole-bearing granitoid"},{"age":230,"eHf":2.5,"l":"amphibole-bearing granitoid"},{"age":231,"eHf":3,"l":"amphibole-bearing granitoid"},{"age":232,"eHf":3.5,"l":"amphibole-bearing granitoid"},{"age":233,"eHf":2.5,"l":"amphibole-bearing granitoid"},{"age":229,"eHf":0,"l":"amphibole-bearing granitoid"},{"age":230,"eHf":-1,"l":"amphibole-bearing granitoid"},{"age":231,"eHf":-2,"l":"amphibole-bearing granitoid"},{"age":232,"eHf":-3,"l":"amphibole-bearing granitoid"},{"age":233,"eHf":-1,"l":"amphibole-bearing granitoid"},{"age":234,"eHf":-2,"l":"amphibole-bearing granitoid"},{"age":228,"eHf":-3,"l":"amphibole-bearing granitoid"},{"age":229,"eHf":-6,"l":"amphibole-bearing granitoid"},{"age":230,"eHf":-7,"l":"amphibole-bearing granitoid"},{"age":231,"eHf":-8,"l":"amphibole-bearing granitoid"},{"age":232,"eHf":-9,"l":"amphibole-bearing granitoid"},{"age":233,"eHf":-10,"l":"amphibole-bearing granitoid"},{"age":234,"eHf":-11,"l":"amphibole-bearing granitoid"},{"age":233,"eHf":-13,"l":"amphibole-bearing granitoid"},{"age":232,"eHf":-12,"l":"amphibole-bearing granitoid"},{"age":231,"eHf":-14,"l":"amphibole-bearing granitoid"},{"age":229,"eHf":-10,"l":"amphibole-bearing granitoid"},{"age":230,"eHf":-10,"l":"amphibole-bearing granitoid"},{"age":227,"eHf":-4,"l":"amphibole-bearing granitoid"},{"age":228,"eHf":-6,"l":"amphibole-bearing granitoid"},{"age":226,"eHf":-8,"l":"amphibole-bearing granitoid"},{"age":233,"eHf":-7,"l":"amphibole-bearing granitoid"},{"age":234,"eHf":-5,"l":"amphibole-bearing granitoid"},{"age":232,"eHf":-6,"l":"amphibole-bearing granitoid"},{"age":228,"eHf":-1.5,"l":"amphibole-bearing granitoid"},{"age":226,"eHf":-6,"l":"amphibole-bearing granitoid"},{"age":236,"eHf":0,"l":"amphibole-bearing granitoid"},{"age":236,"eHf":-2,"l":"amphibole-bearing granitoid"},{"age":236,"eHf":-3.5,"l":"amphibole-bearing granitoid"},{"age":236,"eHf":-5,"l":"amphibole-bearing granitoid"},{"age":236,"eHf":-6.5,"l":"amphibole-bearing granitoid"},{"age":236,"eHf":-8,"l":"amphibole-bearing granitoid"},{"age":236,"eHf":-9.5,"l":"amphibole-bearing granitoid"},{"age":236,"eHf":-11,"l":"amphibole-bearing granitoid"},{"age":236,"eHf":-12.5,"l":"amphibole-bearing granitoid"},{"age":236,"eHf":-14.5,"l":"amphibole-bearing granitoid"},{"age":236,"eHf":-15.5,"l":"amphibole-bearing granitoid"},{"age":237,"eHf":-3,"l":"amphibole-bearing granitoid"},{"age":238,"eHf":-1,"l":"amphibole-bearing granitoid"},{"age":235,"eHf":-7,"l":"amphibole-bearing granitoid"},{"age":240,"eHf":5.5,"l":"amphibole-bearing granitoid"},{"age":240,"eHf":3,"l":"amphibole-bearing granitoid"},{"age":240,"eHf":2.5,"l":"amphibole-bearing granitoid"},{"age":240,"eHf":1.5,"l":"amphibole-bearing granitoid"},{"age":240,"eHf":0,"l":"amphibole-bearing granitoid"},{"age":240,"eHf":-1,"l":"amphibole-bearing granitoid"},{"age":240,"eHf":-2,"l":"amphibole-bearing granitoid"},{"age":240,"eHf":-3,"l":"amphibole-bearing granitoid"},{"age":241,"eHf":-4,"l":"amphibole-bearing granitoid"},{"age":241,"eHf":-5,"l":"amphibole-bearing granitoid"},{"age":241,"eHf":-6,"l":"amphibole-bearing granitoid"},{"age":241,"eHf":-3.5,"l":"amphibole-bearing granitoid"},{"age":242,"eHf":-2.5,"l":"amphibole-bearing granitoid"},{"age":242,"eHf":-4.5,"l":"amphibole-bearing granitoid"},{"age":241,"eHf":0.5,"l":"amphibole-bearing granitoid"},{"age":247,"eHf":8.5,"l":"amphibole-bearing granitoid"},{"age":247,"eHf":7.5,"l":"amphibole-bearing granitoid"},{"age":248,"eHf":6.5,"l":"amphibole-bearing granitoid"},{"age":248,"eHf":6,"l":"amphibole-bearing granitoid"},{"age":248,"eHf":5,"l":"amphibole-bearing granitoid"},{"age":248,"eHf":4,"l":"amphibole-bearing granitoid"},{"age":247,"eHf":3.5,"l":"amphibole-bearing granitoid"},{"age":247,"eHf":4.5,"l":"amphibole-bearing granitoid"},{"age":246,"eHf":1,"l":"amphibole-bearing granitoid"},{"age":246,"eHf":0.5,"l":"amphibole-bearing granitoid"},{"age":248,"eHf":-0.5,"l":"amphibole-bearing granitoid"},{"age":246,"eHf":-4,"l":"amphibole-bearing granitoid"},{"age":246,"eHf":-5,"l":"amphibole-bearing granitoid"},{"age":246,"eHf":-6,"l":"amphibole-bearing granitoid"},{"age":246,"eHf":-6.5,"l":"amphibole-bearing granitoid"},{"age":246,"eHf":-7,"l":"amphibole-bearing granitoid"},{"age":247,"eHf":-7.5,"l":"amphibole-bearing granitoid"},{"age":246,"eHf":-8.5,"l":"amphibole-bearing granitoid"},{"age":246,"eHf":-9.5,"l":"amphibole-bearing granitoid"},{"age":246,"eHf":-10.5,"l":"amphibole-bearing granitoid"},{"age":246,"eHf":-11,"l":"amphibole-bearing granitoid"},{"age":246,"eHf":-12.5,"l":"amphibole-bearing granitoid"},{"age":246,"eHf":-15.5,"l":"amphibole-bearing granitoid"},{"age":246,"eHf":-26,"l":"amphibole-bearing granitoid"},{"age":247,"eHf":-5,"l":"amphibole-bearing granitoid"},{"age":248,"eHf":-4.5,"l":"amphibole-bearing granitoid"},{"age":248,"eHf":-5.5,"l":"amphibole-bearing granitoid"},{"age":247,"eHf":-3.5,"l":"amphibole-bearing granitoid"},{"age":208,"eHf":-6,"l":"amphibole-bearing granitoid"},{"age":209,"eHf":-4,"l":"amphibole-bearing granitoid"},{"age":210,"eHf":-9,"l":"amphibole-bearing granitoid"},{"age":211,"eHf":-3,"l":"amphibole-bearing granitoid"},{"age":212,"eHf":-7,"l":"amphibole-bearing granitoid"},{"age":213,"eHf":-9,"l":"amphibole-bearing granitoid"},{"age":214,"eHf":-5,"l":"amphibole-bearing granitoid"},{"age":215,"eHf":-3,"l":"amphibole-bearing granitoid"},{"age":216,"eHf":-4,"l":"amphibole-bearing granitoid"},{"age":218,"eHf":-6,"l":"amphibole-bearing granitoid"},{"age":219,"eHf":1,"l":"amphibole-bearing granitoid"},{"age":220,"eHf":3,"l":"amphibole-bearing granitoid"},{"age":221,"eHf":2,"l":"amphibole-bearing granitoid"},{"age":217,"eHf":-1,"l":"amphibole-bearing granitoid"},{"age":219,"eHf":-3,"l":"amphibole-bearing granitoid"},{"age":224,"eHf":-3,"l":"amphibole-bearing granitoid"},{"age":225,"eHf":0,"l":"amphibole-bearing granitoid"},{"age":225,"eHf":-2,"l":"amphibole-bearing granitoid"},{"age":208,"eHf":-1,"l":"amphibole-bearing granitoid"},{"age":207,"eHf":1,"l":"amphibole-bearing granitoid"},{"age":212,"eHf":-1,"l":"amphibole-bearing granitoid"},{"age":206,"eHf":-8,"l":"amphibole-bearing granitoid"},{"age":207,"eHf":-10,"l":"amphibole-bearing granitoid"},{"age":211,"eHf":-12,"l":"amphibole-bearing granitoid"},{"age":214,"eHf":-13,"l":"amphibole-bearing granitoid"},{"age":215,"eHf":-15,"l":"amphibole-bearing granitoid"},{"age":213,"eHf":-19,"l":"amphibole-bearing granitoid"},{"age":214,"eHf":-20.5,"l":"amphibole-bearing granitoid"},{"age":215,"eHf":-22.5,"l":"amphibole-bearing granitoid"},
{"age":198,"eHf":-3,"l":"biotite granite"},{"age":200,"eHf":-4,"l":"biotite granite"},{"age":201,"eHf":-6,"l":"biotite granite"},{"age":203,"eHf":-3.5,"l":"biotite granite"},{"age":203,"eHf":-5.5,"l":"biotite granite"},{"age":204,"eHf":-7,"l":"biotite granite"},{"age":205,"eHf":-5,"l":"biotite granite"},{"age":206,"eHf":-4,"l":"biotite granite"},{"age":207,"eHf":-6,"l":"biotite granite"},{"age":207,"eHf":-8,"l":"biotite granite"},{"age":208,"eHf":-5,"l":"biotite granite"},{"age":208,"eHf":-7,"l":"biotite granite"},{"age":209,"eHf":-3,"l":"biotite granite"},{"age":209,"eHf":-9,"l":"biotite granite"},{"age":210,"eHf":-4,"l":"biotite granite"},{"age":210,"eHf":-6,"l":"biotite granite"},{"age":210,"eHf":-10,"l":"biotite granite"},{"age":210,"eHf":-12,"l":"biotite granite"},{"age":210,"eHf":-14.5,"l":"biotite granite"},{"age":211,"eHf":-2,"l":"biotite granite"},{"age":211,"eHf":-7,"l":"biotite granite"},{"age":212,"eHf":-1,"l":"biotite granite"},{"age":212,"eHf":-5,"l":"biotite granite"},{"age":213,"eHf":-3,"l":"biotite granite"},{"age":213,"eHf":-7,"l":"biotite granite"},{"age":214,"eHf":-2,"l":"biotite granite"},{"age":214,"eHf":-6,"l":"biotite granite"},{"age":215,"eHf":-4,"l":"biotite granite"},{"age":215,"eHf":-8,"l":"biotite granite"},{"age":216,"eHf":-3,"l":"biotite granite"},{"age":216,"eHf":-7,"l":"biotite granite"},{"age":217,"eHf":-5,"l":"biotite granite"},{"age":217,"eHf":-9,"l":"biotite granite"},{"age":218,"eHf":-3,"l":"biotite granite"},{"age":218,"eHf":-7,"l":"biotite granite"},{"age":219,"eHf":-5,"l":"biotite granite"},{"age":220,"eHf":-4,"l":"biotite granite"},{"age":221,"eHf":-6,"l":"biotite granite"},{"age":222,"eHf":-3,"l":"biotite granite"},{"age":223,"eHf":-5,"l":"biotite granite"},{"age":224,"eHf":-4,"l":"biotite granite"},{"age":225,"eHf":-6,"l":"biotite granite"},{"age":226,"eHf":-2,"l":"biotite granite"},{"age":226,"eHf":-4,"l":"biotite granite"},{"age":227,"eHf":-3,"l":"biotite granite"},{"age":227,"eHf":-6,"l":"biotite granite"},{"age":228,"eHf":-1,"l":"biotite granite"},{"age":229,"eHf":-3,"l":"biotite granite"},{"age":207,"eHf":-14,"l":"biotite granite"},{"age":229,"eHf":-37,"l":"biotite granite"},{"age":207,"eHf":4,"l":"biotite granite"},{"age":209,"eHf":3,"l":"biotite granite"},{"age":212,"eHf":3.5,"l":"biotite granite"},{"age":213,"eHf":4,"l":"biotite granite"},{"age":214,"eHf":4,"l":"biotite granite"},{"age":216,"eHf":3.5,"l":"biotite granite"},{"age":215,"eHf":2,"l":"biotite granite"},{"age":217,"eHf":2,"l":"biotite granite"},{"age":218,"eHf":2.5,"l":"biotite granite"},{"age":220,"eHf":3,"l":"biotite granite"},{"age":222,"eHf":1.5,"l":"biotite granite"},{"age":208,"eHf":0.5,"l":"biotite granite"},{"age":205,"eHf":0.5,"l":"biotite granite"},{"age":204,"eHf":-1,"l":"biotite granite"},{"age":206,"eHf":2,"l":"biotite granite"},{"age":211,"eHf":1,"l":"biotite granite"},{"age":203,"eHf":-12,"l":"biotite granite"},{"age":204,"eHf":-10,"l":"biotite granite"},{"age":205,"eHf":-12,"l":"biotite granite"},{"age":206,"eHf":-14,"l":"biotite granite"},{"age":201,"eHf":-9,"l":"biotite granite"},{"age":202,"eHf":-11,"l":"biotite granite"},{"age":227,"eHf":-7,"l":"biotite granite"},{"age":225,"eHf":-1,"l":"biotite granite"},{"age":224,"eHf":1,"l":"biotite granite"},{"age":226,"eHf":1,"l":"biotite granite"},{"age":213,"eHf":-11,"l":"biotite granite"},{"age":214,"eHf":-9,"l":"biotite granite"},{"age":211,"eHf":-10,"l":"biotite granite"},{"age":212,"eHf":-12,"l":"biotite granite"},{"age":232,"eHf":-6.5,"l":"biotite granite"},{"age":235,"eHf":-1,"l":"biotite granite"},
{"age":229.5,"eHf":-5.2,"l":"diorite"},{"age":233,"eHf":-4.4,"l":"diorite"},{"age":240.9,"eHf":-4.6,"l":"diorite"},
{"age":187.5,"eHf":-8.7,"l":"two-mica granite"},{"age":194,"eHf":-3.5,"l":"two-mica granite"},{"age":195.5,"eHf":-3.7,"l":"two-mica granite"},{"age":197.7,"eHf":5.0,"l":"two-mica granite"},{"age":209.2,"eHf":5.9,"l":"two-mica granite"},{"age":215,"eHf":-5,"l":"two-mica granite"},{"age":215.5,"eHf":-6.2,"l":"two-mica granite"},{"age":216,"eHf":-7,"l":"two-mica granite"},{"age":214,"eHf":-5.8,"l":"two-mica granite"},{"age":223,"eHf":-5.5,"l":"two-mica granite"},{"age":229,"eHf":4,"l":"two-mica granite"},{"age":243,"eHf":-6,"l":"two-mica granite"},{"age":246,"eHf":9,"l":"two-mica granite"},{"age":249.5,"eHf":-3,"l":"two-mica granite"},{"age":212,"eHf":-2,"l":"two-mica granite"},{"age":217,"eHf":-4,"l":"two-mica granite"}]
},
"hconcat":[
{"vconcat":[
{"width":610,"height":243,
"encoding":{"x":{"field":"age","type":"quantitative","scale":{"domain":[0,3000],"nice":false,"zero":false},"axis":{"labels":false,"ticks":false,"title":null,"grid":true,"gridDash":[6,4],"gridColor":"#c8c8c8","values":[500,1000,1500,2000,2500]}},
"y":{"field":"eHf","type":"quantitative","scale":{"domain":[-50,20],"nice":false,"zero":false},"axis":{"values":[-50,-40,-30,-20,-10,0,10,20],"labelExpr":"datum.value > 0 ? '+' + datum.value : '' + datum.value","grid":true,"gridDash":[6,4],"gridColor":"#c8c8c8","tickSize":6,"title":"εHf(t)","titleFontSize":20,"labelFontSize":12,"titlePadding":4}}},
"layer":[
{"data":{"name":"evo"},"transform":[{"filter":"datum.line === 'DM'"}],"mark":{"type":"line","color":"#c8624f","strokeWidth":2},"encoding":{"detail":{"field":"line"}}},
{"data":{"name":"evo"},"transform":[{"filter":"datum.line === 'CHUR'"}],"mark":{"type":"line","color":"#f0a060","strokeWidth":2},"encoding":{"detail":{"field":"line"}}},
{"data":{"name":"evo"},"transform":[{"filter":"datum.line !== 'CHUR' && datum.line !== 'DM'"}],"mark":{"type":"line","color":"#a07d50","strokeWidth":2},"encoding":{"detail":{"field":"line"}}},
{"data":{"name":"fA"},"mark":{"type":"point","shape":"triangle-up","filled":true,"color":"#eca07e","size":28,"opacity":0.85}},
{"data":{"name":"fAb"},"mark":{"type":"point","shape":"triangle-up","filled":true,"color":"#8cd0f2","size":28,"opacity":0.9}},
{"data":{"name":"arrA"},"mark":{"type":"line","color":"#586648","strokeWidth":5,"strokeDash":[12,8]},"encoding":{"detail":{"field":"seg"}}},
{"data":{"name":"headA"},"transform":[{"filter":"datum.dir === 'left'"}],"mark":{"type":"point","shape":"triangle-left","filled":true,"color":"#586648","size":480,"opacity":1}},
{"data":{"name":"headA"},"transform":[{"filter":"datum.dir === 'up'"}],"mark":{"type":"point","shape":"triangle-up","filled":true,"color":"#586648","size":520,"opacity":1}},
{"data":{"name":"eA"},"mark":{"type":"errorbar","ticks":true,"color":"#d2111c"},"encoding":{"y":{"field":"lo","type":"quantitative","title":"εHf(t)"},"y2":{"field":"hi"}}},
{"data":{"name":"mA"},"mark":{"type":"point","shape":"triangle-up","filled":true,"size":170,"opacity":1,"stroke":"#111","strokeWidth":0.8},
"encoding":{"color":{"field":"type","type":"nominal","scale":{"domain":["MME/Mafic rocks","Granitoid rocks"],"range":["#1ba1e2","#d0101c"]},
"legend":{"orient":"none","legendX":388,"legendY":156,"title":"North Qinling Belt","titleFontSize":20,"labelFontSize":14,"symbolType":"triangle-up","symbolSize":220,"symbolStrokeColor":"#111","symbolStrokeWidth":0.8,"symbolOpacity":1,"rowPadding":8,"titlePadding":10,"labelOffset":8}}}},
{"data":{"name":"tA"},"transform":[{"filter":"datum.k === 'dm'"}],"mark":{"type":"text","fontSize":21,"fill":"#c41e2a","angle":3.5},"encoding":{"text":{"field":"t","type":"nominal"}}},
{"data":{"name":"tA"},"transform":[{"filter":"datum.k === 'chur'"}],"mark":{"type":"text","fontSize":19,"fill":"#e0601a"},"encoding":{"text":{"field":"t","type":"nominal"}}},
{"data":{"name":"tA"},"transform":[{"filter":"datum.k === 'panel'"}],"mark":{"type":"text","fontSize":22,"fill":"#111"},"encoding":{"text":{"field":"t","type":"nominal"}}},
{"data":{"name":"tA"},"transform":[{"filter":"datum.k === 'ga'"}],"mark":{"type":"text","fontSize":16,"fill":"#7a5028","angle":348.2},"encoding":{"text":{"field":"t","type":"nominal"}}},
{"data":{"name":"tA"},"transform":[{"filter":"datum.k === 'lu'"}],"mark":{"type":"text","fontSize":21,"fill":"#111","angle":347},"encoding":{"text":{"field":"t","type":"nominal"}}}
]},
{"width":610,"height":242,
"encoding":{"x":{"field":"age","type":"quantitative","scale":{"domain":[0,3000],"nice":false,"zero":false},"axis":{"title":"Age (Ma)","titleFontSize":26,"labelFontSize":16,"format":"d","values":[0,500,1000,1500,2000,2500,3000],"tickSize":6,"grid":true,"gridColor":"#dcdcdc","labelFlush":false,"labelPadding":4,"titlePadding":4}},
"y":{"field":"eHf","type":"quantitative","scale":{"domain":[-50,20],"nice":false,"zero":false},"axis":{"values":[-50,-40,-30,-20,-10,0,10,20],"labelExpr":"datum.value > 0 ? '+' + datum.value : '' + datum.value","grid":true,"gridDash":[6,4],"gridColor":"#c8c8c8","tickSize":6,"title":"εHf(t)","titleFontSize":20,"labelFontSize":12,"titlePadding":4}}},
"layer":[
{"data":{"name":"evo"},"transform":[{"filter":"datum.line === 'DM'"}],"mark":{"type":"line","color":"#c8624f","strokeWidth":2},"encoding":{"detail":{"field":"line"}}},
{"data":{"name":"evo"},"transform":[{"filter":"datum.line === 'CHUR'"}],"mark":{"type":"line","color":"#f0a060","strokeWidth":2},"encoding":{"detail":{"field":"line"}}},
{"data":{"name":"evo"},"transform":[{"filter":"datum.line !== 'CHUR' && datum.line !== 'DM'"}],"mark":{"type":"line","color":"#a07d50","strokeWidth":2},"encoding":{"detail":{"field":"line"}}},
{"data":{"name":"fB"},"mark":{"type":"point","shape":"triangle-down","filled":true,"color":"#eca07e","size":28,"opacity":0.85}},
{"data":{"name":"fBb"},"mark":{"type":"point","shape":"triangle-down","filled":true,"color":"#8cd0f2","size":28,"opacity":0.9}},
{"data":{"name":"arrB"},"mark":{"type":"line","color":"#586648","strokeWidth":5,"strokeDash":[12,8]},"encoding":{"detail":{"field":"seg"}}},
{"data":{"name":"headB"},"transform":[{"filter":"datum.dir === 'left'"}],"mark":{"type":"point","shape":"triangle-left","filled":true,"color":"#586648","size":480,"opacity":1}},
{"data":{"name":"headB"},"transform":[{"filter":"datum.dir === 'up'"}],"mark":{"type":"point","shape":"triangle-up","filled":true,"color":"#586648","size":520,"opacity":1}},
{"data":{"name":"eB"},"mark":{"type":"errorbar","ticks":true,"color":"#d2111c"},"encoding":{"y":{"field":"lo","type":"quantitative","title":"εHf(t)"},"y2":{"field":"hi"}}},
{"data":{"name":"mB"},"mark":{"type":"point","shape":"triangle-down","filled":true,"size":170,"opacity":1,"stroke":"#111","strokeWidth":0.8},
"encoding":{"color":{"field":"type","type":"nominal","scale":{"domain":["MME/Mafic rocks","Granitoid rocks"],"range":["#1ba1e2","#d0101c"]},
"legend":{"orient":"none","legendX":384,"legendY":154,"title":"South Qinling Belt","titleFontSize":20,"labelFontSize":14,"symbolType":"triangle-down","symbolSize":220,"symbolStrokeColor":"#111","symbolStrokeWidth":0.8,"symbolOpacity":1,"rowPadding":8,"titlePadding":10,"labelOffset":8}}}},
{"data":{"name":"tB"},"transform":[{"filter":"datum.k === 'dm'"}],"mark":{"type":"text","fontSize":21,"fill":"#c41e2a","angle":3.5},"encoding":{"text":{"field":"t","type":"nominal"}}},
{"data":{"name":"tB"},"transform":[{"filter":"datum.k === 'chur'"}],"mark":{"type":"text","fontSize":19,"fill":"#e0601a"},"encoding":{"text":{"field":"t","type":"nominal"}}},
{"data":{"name":"tB"},"transform":[{"filter":"datum.k === 'panel'"}],"mark":{"type":"text","fontSize":22,"fill":"#111"},"encoding":{"text":{"field":"t","type":"nominal"}}},
{"data":{"name":"tB"},"transform":[{"filter":"datum.k === 'ga'"}],"mark":{"type":"text","fontSize":16,"fill":"#7a5028","angle":348.2},"encoding":{"text":{"field":"t","type":"nominal"}}},
{"data":{"name":"tB"},"transform":[{"filter":"datum.k === 'lu'"}],"mark":{"type":"text","fontSize":21,"fill":"#111","angle":347},"encoding":{"text":{"field":"t","type":"nominal"}}}
]}
],"spacing":25,"bounds":"flush","resolve":{"scale":{"color":"independent","x":"independent","y":"independent"},"legend":{"color":"independent"}}},
{"width":402,"height":510,
"encoding":{"x":{"field":"age","type":"quantitative","scale":{"domain":[160,280],"nice":false,"zero":false},"axis":{"title":"Age (Ma)","titleFontSize":26,"labelFontSize":14,"values":[160,165,170,175,180,185,190,195,200,205,210,215,220,225,230,235,240,245,250,255,260,265,270,275,280],"labelExpr":"datum.value % 10 === 0 ? '' + datum.value : ''","tickSize":{"condition":{"test":"datum.value % 10 === 0","value":6},"value":3},"labelFlush":false,"grid":false,"labelPadding":3,"titlePadding":6}},
"y":{"field":"eHf","type":"quantitative","scale":{"domain":[-40,20],"nice":false,"zero":false},"axis":{"title":"εHf(t)","titleFontSize":20,"labelFontSize":14,"values":[-40,-35,-30,-25,-20,-15,-10,-5,0,5,10,15,20],"labelExpr":"datum.value % 10 === 0 ? (datum.value > 0 ? '+' + datum.value : '' + datum.value) : ''","tickSize":{"condition":{"test":"datum.value % 10 === 0","value":6},"value":3},"grid":false,"titlePadding":4}}},
"layer":[
{"data":{"name":"cv"},"mark":{"type":"line","color":"#b5b5b5","strokeWidth":3.5,"strokeDash":[12,8]},"encoding":{"detail":{"field":"g"}}},
{"data":{"name":"cdm"},"mark":{"type":"line","color":"#c0604c","strokeWidth":5},"encoding":{}},
{"data":{"name":"env"},"mark":{"type":"line","color":"#111","strokeWidth":3.2,"strokeDash":[12,8]},"encoding":{}},
{"data":{"name":"cN"},"mark":{"type":"point","shape":"triangle-up","filled":true,"size":110,"opacity":1,"stroke":"#555","strokeWidth":0.6},
"encoding":{"color":{"field":"l","type":"nominal","scale":{"domain":["diorite","amphibole-bearing granitoid","biotite granite"],"range":["#56b4d3","#8fc15c","#f3cf3c"]},
"legend":{"orient":"none","legendX":412,"legendY":92,"title":"North Qinling Belt:","titleFontSize":17,"labelFontSize":15,"symbolType":"triangle-up","symbolSize":170,"symbolStrokeColor":"#666","symbolStrokeWidth":0.6,"symbolOpacity":1,"rowPadding":12,"titlePadding":13,"labelOffset":10,"labelExpr":"datum.label === 'amphibole-bearing granitoid' ? ['amphibole-', 'bearing granitoid'] : datum.label"}}}},
{"data":{"name":"cS"},"mark":{"type":"point","shape":"triangle-down","filled":true,"size":110,"opacity":1,"stroke":"#555","strokeWidth":0.6},
"encoding":{"color":{"field":"l","type":"nominal","scale":{"domain":["diorite","amphibole-bearing granitoid","biotite granite","two-mica granite"],"range":["#56b4d3","#8fc15c","#f3cf3c","#e2801e"]},
"legend":{"orient":"none","legendX":412,"legendY":237,"title":"South Qinling Belt:","titleFontSize":17,"labelFontSize":15,"symbolType":"triangle-down","symbolSize":170,"symbolStrokeColor":"#666","symbolStrokeWidth":0.6,"symbolOpacity":1,"rowPadding":12,"titlePadding":13,"labelOffset":10,"labelExpr":"datum.label === 'amphibole-bearing granitoid' ? ['amphibole-', 'bearing granitoid'] : datum.label"}}}},
{"data":{"name":"cchur"},"mark":{"type":"line","color":"#e8864a","strokeWidth":5,"opacity":0.85},"encoding":{}},
{"data":{"name":"tC"},"transform":[{"filter":"datum.k === 'dm'"}],"mark":{"type":"text","fontSize":20,"fill":"#c41e2a","align":"left"},"encoding":{"text":{"field":"t","type":"nominal"}}},
{"data":{"name":"tC"},"transform":[{"filter":"datum.k === 'chur'"}],"mark":{"type":"text","fontSize":20,"fill":"#e0601a","align":"right"},"encoding":{"text":{"field":"t","type":"nominal"}}},
{"data":{"name":"tC"},"transform":[{"filter":"datum.k === 'panel'"}],"mark":{"type":"text","fontSize":22,"fill":"#111"},"encoding":{"text":{"field":"t","type":"nominal"}}}
],
"resolve":{"scale":{"color":"independent"}}}
],
"spacing":-10,
"resolve":{"scale":{"color":"independent","x":"independent","y":"independent"},"legend":{"color":"independent"}}
}
